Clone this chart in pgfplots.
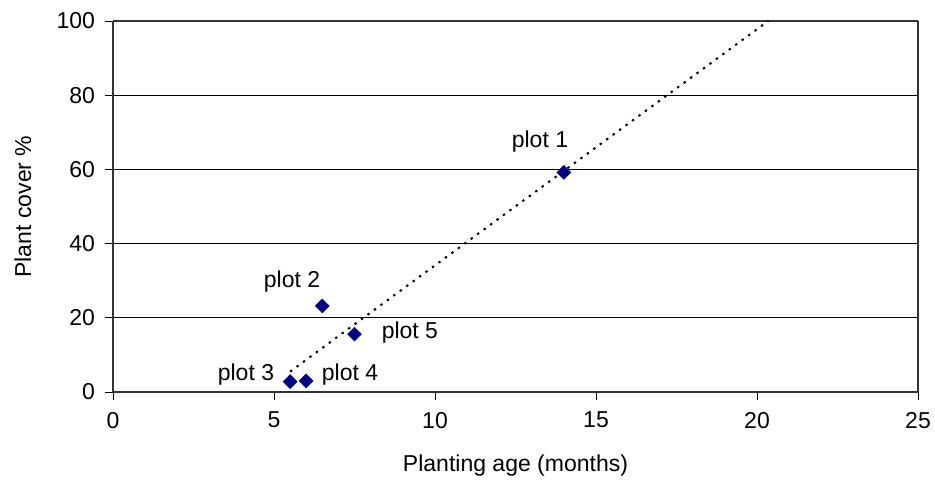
\documentclass[border=0pt]{standalone}
\usepackage{pgfplots}
\pgfplotsset{compat=1.18}
\usepackage{fontspec}
\setmainfont{Liberation Sans}
\definecolor{navymark}{RGB}{0,0,128}
\begin{document}
\fontsize{11.5}{13.8}\selectfont
\begin{tikzpicture}
\useasboundingbox (0,0) rectangle (467.5pt,244.5pt);
\begin{axis}[
  at={(56.5pt,48.5pt)}, anchor=south west,
  scale only axis, width=402.5pt, height=185.5pt,
  xmin=0, xmax=25, ymin=0, ymax=100,
  xtick={0,5,10,15,20,25}, ytick={0,20,40,60,80,100},
  tick align=outside, tick pos=left,
  major tick length=4pt,
  tick style={black, line width=0.5pt},
  /pgf/number format/assume math mode=true,
  ymajorgrids, grid style={black, line width=0.5pt},
  axis line style={gray!70, line width=0.8pt},
  separate axis lines,
  x axis line style={black!80},
  y axis line style={black!80},
  xlabel={Planting age (months)}, ylabel={Plant cover \%},
  xlabel style={at={(axis description cs:0.5,-0.197)}, anchor=center},
  ylabel style={at={(axis description cs:-0.112,0.5)}, anchor=center},
  xticklabel style={yshift=-2pt},
  yticklabel style={xshift=-1pt},
  clip=false,
]
\addplot[black, line width=1pt, dash pattern=on 1.2pt off 2.8pt] coordinates {(5.5,5.5) (20.35,100)};
\addplot[only marks, mark=square*, mark size=2.4pt, mark options={rotate=45, fill=navymark, draw=navymark}]
  coordinates {(14,59.2) (6.5,23.2) (5.5,2.8) (6,3.0) (7.5,15.6)};
\node at (axis cs:13.26,67.4) {plot 1};
\node at (axis cs:5.56,29.9) {plot 2};
\node at (axis cs:4.13,4.6) {plot 3};
\node at (axis cs:7.36,4.6) {plot 4};
\node at (axis cs:9.22,15.9) {plot 5};
\end{axis}
\end{tikzpicture}
\end{document}
